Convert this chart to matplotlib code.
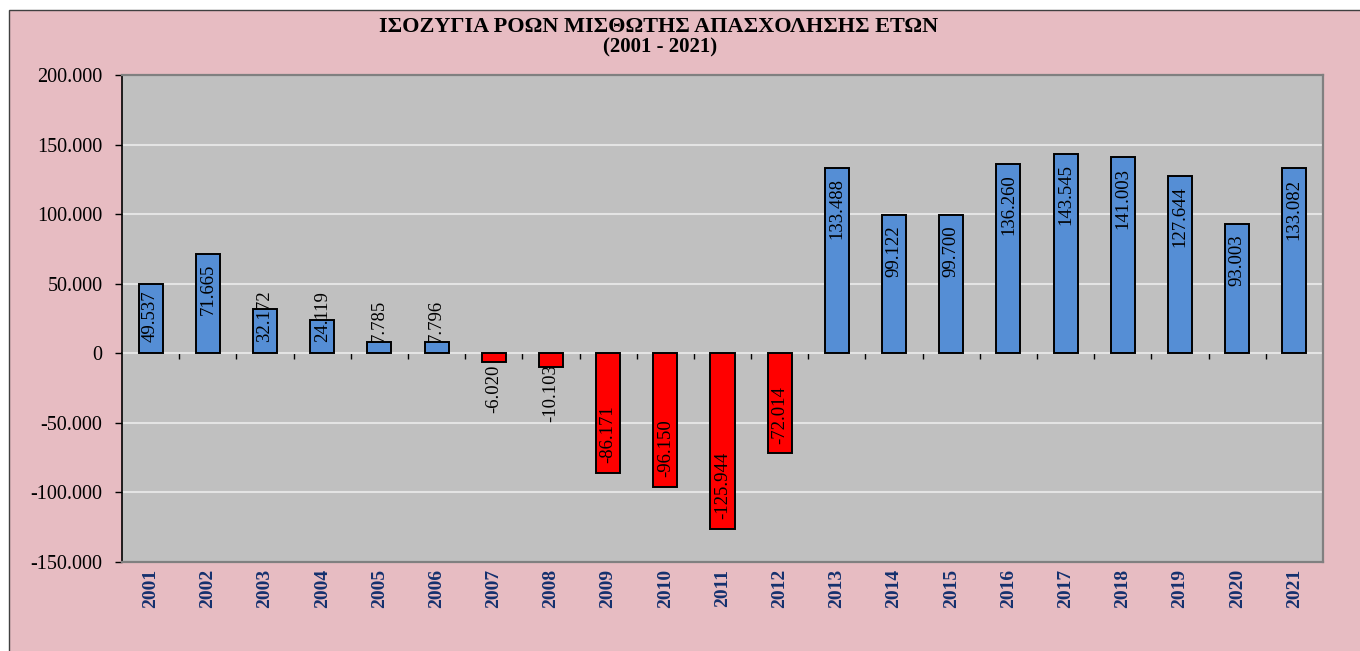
import matplotlib
matplotlib.use("Agg")
import matplotlib.pyplot as plt
from matplotlib.patches import Rectangle
from matplotlib.ticker import FuncFormatter, MultipleLocator

# ===== data =====
years = [str(y) for y in range(2001, 2022)]
balance = [49537, 71665, 32172, 24119, 7785, 7796, -6020, -10103,
           -86171, -96150, -125944, -72014, 133488, 99122, 99700,
           136260, 143545, 141003, 127644, 93003, 133082]
title_line1 = "ΙΣΟΖΥΓΙΑ ΡΟΩΝ ΜΙΣΘΩΤΗΣ ΑΠΑΣΧΟΛΗΣΗΣ ΕΤΩΝ"
title_line2 = "(2001 - 2021)"
ymin, ymax = -150000, 200000


def greek_num(v, pos=None):
    return f"{v:,.0f}".replace(",", ".")


plt.rcParams["font.family"] = ["Liberation Serif", "DejaVu Serif"]

fig = plt.figure(figsize=(13.6, 6.51), dpi=100, facecolor="white")

# pink chart area with a thin dark frame on left/top
bg = Rectangle((9 / 1360, -0.01), 1.0, 1 - 10 / 651 + 0.01,
               transform=fig.transFigure, facecolor="#E7BCC2",
               edgecolor="#404040", linewidth=1.0, zorder=-10)
fig.patches.append(bg)

ax = fig.add_axes([122 / 1360, 89 / 651, 1201 / 1360, 487 / 651])
ax.set_facecolor("#C0C0C0")

x = list(range(len(years)))
colors = ["#558ED5" if v >= 0 else "#FF0000" for v in balance]
ax.bar(x, balance, width=0.42, color=colors, edgecolor="black",
       linewidth=1.4, zorder=3)

ax.set_xlim(-0.5, len(years) - 0.5)
ax.set_ylim(ymin, ymax)
ax.yaxis.set_major_locator(MultipleLocator(50000))
ax.yaxis.set_major_formatter(FuncFormatter(greek_num))
ax.grid(axis="y", color="#E4E4E4", linewidth=1.5, zorder=0)
ax.set_axisbelow(True)

ax.tick_params(axis="y", direction="out", length=5, width=1.0,
               color="black", labelsize=14.5, pad=9)
ax.set_xticks(x)
ax.set_xticklabels(years, rotation=90, fontsize=14, fontweight="bold",
                   color="#14306E")
ax.tick_params(axis="x", length=0, pad=5)

for side in ["top", "right", "bottom"]:
    ax.spines[side].set_color("#808080")
    ax.spines[side].set_linewidth(1.6)
ax.spines["left"].set_color("black")
ax.spines["left"].set_linewidth(1.2)

# category axis crossing at zero, with ticks between categories
zero_frac = (0 - ymin) / (ymax - ymin)
cat_axis = ax.secondary_xaxis(zero_frac)
cat_axis.set_xticks([i + 0.5 for i in x[:-1]])
cat_axis.set_xticklabels([])
cat_axis.tick_params(direction="out", length=4, width=1.0, color="black")
cat_axis.spines["bottom"].set_color("black")
cat_axis.spines["bottom"].set_linewidth(1.2)

# value labels
for xi, v in zip(x, balance):
    label = greek_num(v)
    if v >= 0:
        if v > 55000:
            ypos, va = v - 7500, "top"
        else:
            ypos, va = 8000, "bottom"
    else:
        if v < -50000:
            ypos, va = v + 7000, "bottom"
        else:
            ypos, va = -8000, "top"
    ax.text(xi, ypos, label, rotation=90, ha="center", va=va,
            fontsize=13.5, color="black", zorder=5)

fig.text(659 / 1360, 1 - 27 / 651, title_line1, ha="center", va="center",
         fontsize=16, fontweight="bold")
fig.text(660 / 1360, 1 - 47 / 651, title_line2, ha="center", va="center",
         fontsize=15, fontweight="bold")

fig.savefig("out.png", dpi=100, facecolor=fig.get_facecolor())
